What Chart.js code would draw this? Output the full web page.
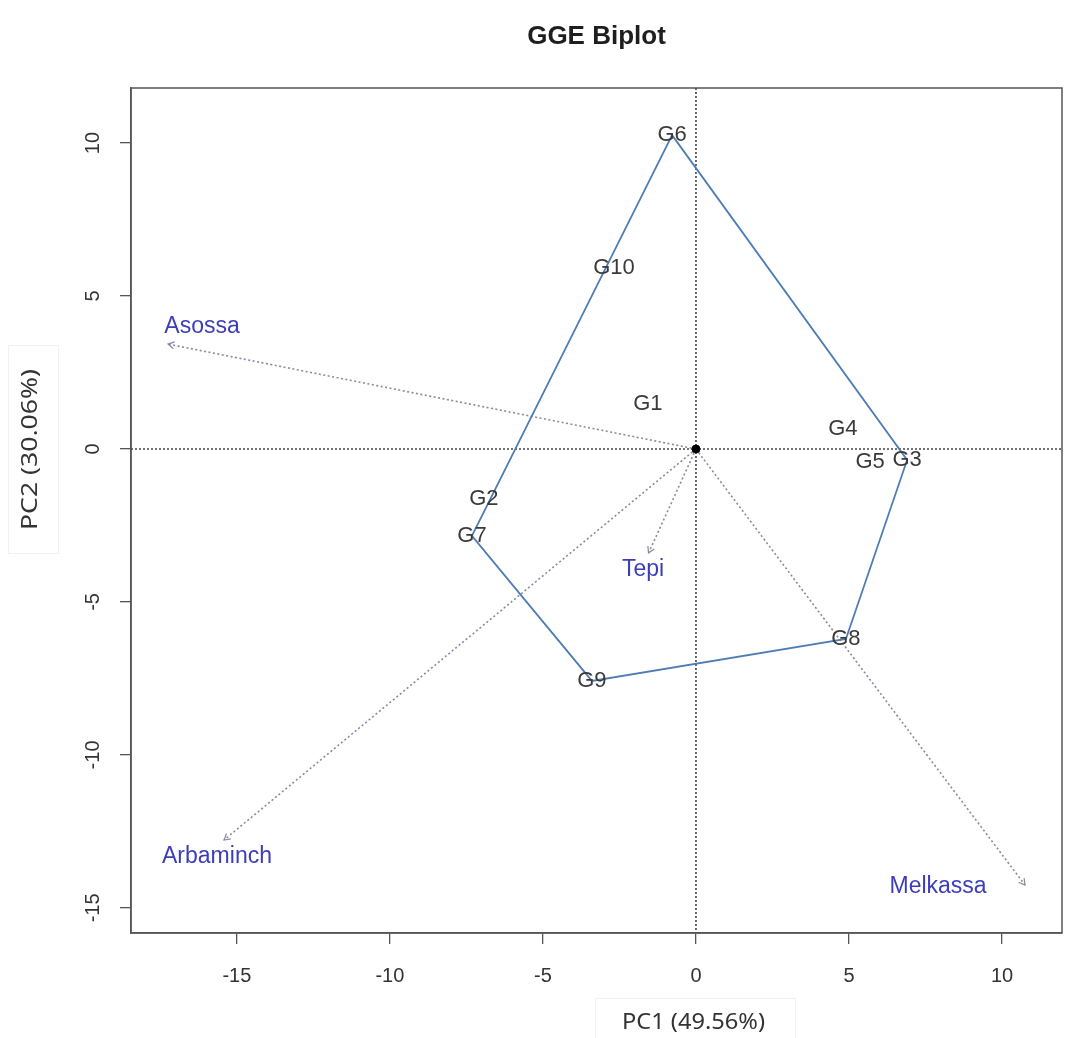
<!DOCTYPE html>
<html>
<head>
<meta charset="utf-8">
<title>GGE Biplot</title>
<script src="https://cdn.jsdelivr.net/npm/chart.js@4.4.1/dist/chart.umd.min.js"></script>
<style>
  html, body { margin: 0; padding: 0; background: #ffffff; }
  #wrap { width: 1070px; height: 1038px; position: relative; }
</style>
</head>
<body>
<div id="wrap"><canvas id="c" width="1070" height="1038"></canvas></div>
<script>
// Genotype scores on the first two principal components
const genotypes = ['G1', 'G2', 'G3', 'G4', 'G5', 'G6', 'G7', 'G8', 'G9', 'G10'];
const genoPC1 = [-1.57, -6.93, 6.90, 4.80, 5.69, -0.78, -7.32, 4.90, -3.40, -2.68];
const genoPC2 = [1.47, -1.63, -0.36, 0.65, -0.42, 10.26, -2.84, -6.21, -7.58, 5.92];

// Vertex genotypes of the which-won-where polygon, in drawing order
const hullOrder = ['G6', 'G3', 'G8', 'G9', 'G7', 'G6'];

// Environment vectors (tips) and where their names are written
const environments = ['Asossa', 'Arbaminch', 'Tepi', 'Melkassa'];
const envPC1 = [-17.25, -15.42, -1.55, 10.75];
const envPC2 = [3.43, -12.78, -3.40, -14.25];
const envLabelPC1 = [-16.14, -15.65, -1.73, 7.91];
const envLabelPC2 = [3.99, -13.33, -3.95, -14.31];

// Axes
const xTicks = [-15, -10, -5, 0, 5, 10];
const yTicks = [-15, -10, -5, 0, 5, 10];
const xRange = [-18.46, 11.96];
const yRange = [-15.82, 11.80];
const chartTitle = 'GGE Biplot';
const xTitle = 'PC1 (49.56%)';
const yTitle = 'PC2 (30.06%)';

const TICK_FONT = { family: "'Liberation Sans', Arial, sans-serif", size: 20 };
const AXIS_COLOR = '#555555';
const ENV_LINE = '#8a8a9e';
const ENV_TEXT = '#3d3dbb';
const GENO_TEXT = '#3a3a3a';
const HULL_COLOR = '#4f7db3';

const genoPoints = genotypes.map((g, i) => ({ x: genoPC1[i], y: genoPC2[i] }));
const hullPoints = hullOrder.map(g => {
  const i = genotypes.indexOf(g);
  return { x: genoPC1[i], y: genoPC2[i] };
});
const envVectorSets = environments.map((e, i) => ({
  label: e,
  data: [{ x: 0, y: 0 }, { x: envPC1[i], y: envPC2[i] }],
  showLine: true,
  borderColor: ENV_LINE,
  borderWidth: 1.6,
  borderDash: [2, 2.5],
  pointRadius: 0,
  fill: false,
  tension: 0
}));
const envLabelPoints = environments.map((e, i) => ({ x: envLabelPC1[i], y: envLabelPC2[i] }));

const datasets = [
  { label: 'origin', data: [{ x: 0, y: 0 }], pointRadius: 4, pointBackgroundColor: '#000', pointBorderColor: '#000', showLine: false },
  { label: 'genotypes', data: genoPoints, pointRadius: 0, showLine: false },
  { label: 'envLabels', data: envLabelPoints, pointRadius: 0, showLine: false },
  { label: 'polygon', data: hullPoints, showLine: true, borderColor: HULL_COLOR, borderWidth: 1.8, pointRadius: 0, fill: false, tension: 0 },
  ...envVectorSets
];
const ENV_START = 4;

// Zero reference lines, frame, arrowheads, labels and titles
const biplotDecor = {
  id: 'biplotDecor',
  beforeDatasetsDraw(chart) {
    const { ctx, chartArea: a, scales: { x, y } } = chart;
    const x0 = x.getPixelForValue(0);
    const y0 = y.getPixelForValue(0);
    ctx.save();
    ctx.strokeStyle = '#444444';
    ctx.lineWidth = 1.6;
    ctx.setLineDash([2, 2]);
    ctx.beginPath();
    ctx.moveTo(a.left, y0); ctx.lineTo(a.right, y0);
    ctx.moveTo(x0, a.top); ctx.lineTo(x0, a.bottom);
    ctx.stroke();
    ctx.restore();
  },
  afterDatasetsDraw(chart) {
    const { ctx, chartArea: a } = chart;
    ctx.save();
    // arrowheads on the environment vectors
    ctx.strokeStyle = ENV_LINE;
    ctx.lineWidth = 1.2;
    environments.forEach((e, i) => {
      const pts = chart.getDatasetMeta(ENV_START + i).data;
      const p0 = pts[0], p1 = pts[1];
      const ang = Math.atan2(p1.y - p0.y, p1.x - p0.x);
      const L = 7, spread = Math.PI / 6;
      ctx.beginPath();
      ctx.moveTo(p1.x - L * Math.cos(ang - spread), p1.y - L * Math.sin(ang - spread));
      ctx.lineTo(p1.x, p1.y);
      ctx.lineTo(p1.x - L * Math.cos(ang + spread), p1.y - L * Math.sin(ang + spread));
      ctx.stroke();
    });
    // genotype names
    ctx.fillStyle = GENO_TEXT;
    ctx.font = "22px 'Liberation Sans', Arial, sans-serif";
    ctx.textAlign = 'center';
    ctx.textBaseline = 'middle';
    chart.getDatasetMeta(1).data.forEach((pt, i) => {
      ctx.fillText(genotypes[i], pt.x, pt.y);
    });
    // environment names
    ctx.fillStyle = ENV_TEXT;
    ctx.font = "23px 'Liberation Sans', Arial, sans-serif";
    chart.getDatasetMeta(2).data.forEach((pt, i) => {
      ctx.fillText(environments[i], pt.x, pt.y);
    });
    // plot frame
    ctx.strokeStyle = AXIS_COLOR;
    ctx.lineWidth = 1.5;
    ctx.setLineDash([]);
    ctx.strokeRect(a.left, a.top, a.right - a.left, a.bottom - a.top);
    ctx.restore();
  },
  afterDraw(chart) {
    const { ctx, chartArea: a } = chart;
    ctx.save();
    // main title
    ctx.fillStyle = '#1e1e1e';
    ctx.font = "bold 26px 'Liberation Sans', Arial, sans-serif";
    ctx.textAlign = 'center';
    ctx.textBaseline = 'alphabetic';
    ctx.fillText(chartTitle, (a.left + a.right) / 2, 44);

    // axis titles with their faint frames
    ctx.strokeStyle = '#f2f2f2';
    ctx.lineWidth = 1;
    ctx.strokeRect(595.5, 998.5, 200, 45);
    ctx.strokeRect(8.5, 345.5, 50, 208);

    ctx.fillStyle = '#333333';
    ctx.font = "21px 'Noto Sans', 'Open Sans', sans-serif";
    let w = ctx.measureText(xTitle).width;
    ctx.save();
    ctx.translate(693.5, 1029);
    ctx.scale(143 / w, 1);
    ctx.fillText(xTitle, 0, 0);
    ctx.restore();

    w = ctx.measureText(yTitle).width;
    ctx.save();
    ctx.translate(37, 449.5);
    ctx.rotate(-Math.PI / 2);
    ctx.scale(161 / w, 1);
    ctx.fillText(yTitle, 0, 0);
    ctx.restore();
    ctx.restore();
  }
};

new Chart(document.getElementById('c'), {
  type: 'scatter',
  data: { datasets },
  options: {
    responsive: false,
    animation: false,
    devicePixelRatio: 1,
    layout: { padding: { top: 88, right: 8, left: 0, bottom: 0 } },
    plugins: { legend: { display: false }, tooltip: { enabled: false }, title: { display: false } },
    scales: {
      x: {
        type: 'linear',
        min: xRange[0],
        max: xRange[1],
        afterBuildTicks: s => { s.ticks = xTicks.map(v => ({ value: v })); },
        afterFit: s => { s.height = 105; },
        ticks: { font: TICK_FONT, color: '#333', padding: 20, maxRotation: 0, minRotation: 0 },
        grid: { drawOnChartArea: false, drawTicks: true, tickLength: 11, color: AXIS_COLOR, lineWidth: 1.3 },
        border: { display: true, color: AXIS_COLOR, width: 1.5 }
      },
      y: {
        type: 'linear',
        min: yRange[0],
        max: yRange[1],
        afterBuildTicks: s => { s.ticks = yTicks.map(v => ({ value: v })); },
        afterFit: s => { s.width = 131; },
        ticks: { font: TICK_FONT, color: '#333', padding: 12, minRotation: 90, maxRotation: 90, crossAlign: 'center' },
        grid: { drawOnChartArea: false, drawTicks: true, tickLength: 11, color: AXIS_COLOR, lineWidth: 1.3 },
        border: { display: true, color: AXIS_COLOR, width: 1.5 }
      }
    }
  },
  plugins: [biplotDecor]
});
</script>
</body>
</html>
